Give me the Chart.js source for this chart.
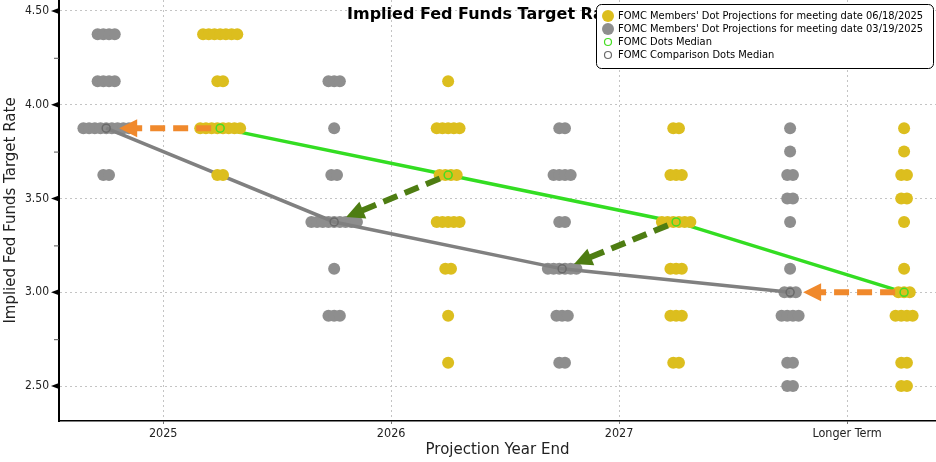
<!DOCTYPE html>
<html>
<head>
<meta charset="utf-8">
<script src="https://cdn.jsdelivr.net/npm/chart.js@4.4.1/dist/chart.umd.min.js"></script>
<style>
  html, body { margin: 0; padding: 0; background: #fff; }
  #wrap { width: 936px; height: 462px; position: relative; }
</style>
</head>
<body>
<div id="wrap"><canvas id="chart"></canvas></div>
<script>
const categories = ['2025', '2026', '2027', 'Longer Term'];
const rateLevels = [4.375, 4.125, 3.875, 3.75, 3.625, 3.5, 3.375, 3.125, 3.0, 2.875, 2.625, 2.5];

// number of participants at each rate level (same order as rateLevels)
const june2025 = [7, 2, 8, 0, 2, 0, 0, 0, 0, 0, 0, 0];
const june2026 = [0, 1, 5, 0, 4, 0, 5, 2, 0, 1, 1, 0];
const june2027 = [0, 0, 2, 0, 3, 0, 6, 3, 0, 3, 2, 0];
const juneLonger = [0, 0, 1, 1, 2, 2, 1, 1, 3, 4, 2, 2];

const march2025 = [4, 4, 9, 0, 2, 0, 0, 0, 0, 0, 0, 0];
const march2026 = [0, 3, 1, 0, 2, 0, 9, 1, 0, 3, 0, 0];
const march2027 = [0, 0, 2, 0, 4, 0, 2, 6, 0, 3, 2, 0];
const marchLonger = [0, 0, 1, 1, 2, 2, 1, 1, 3, 4, 2, 2];

const juneMedians = [3.875, 3.625, 3.375, 3.0];
const marchMedians = [3.875, 3.375, 3.125, 3.0];

const yMajorTicks = [2.5, 3.0, 3.5, 4.0, 4.5];
const yMinorTicks = [2.75, 3.25, 3.75, 4.25];

const juneDots = [june2025, june2026, june2027, juneLonger];
const marchDots = [march2025, march2026, march2027, marchLonger];

const FONT = '"DejaVu Sans Condensed", "DejaVu Sans", sans-serif';
const WIDE_FONT = '"DejaVu Sans", sans-serif';
const YELLOW = '#dcbe1e';
const GREY = '#8e8e8e';
const SIDE = 0.25;      // offset of each meeting's column from the year
const DOT_STEP = 0.025; // horizontal spread between stacked dots

function dotPoints(columns, side) {
  const pts = [];
  columns.forEach((counts, col) => {
    counts.forEach((n, k) => {
      for (let j = 0; j < n; j++) {
        pts.push({ x: col + side + (j - (n - 1) / 2) * DOT_STEP, y: rateLevels[k] });
      }
    });
  });
  return pts;
}

function medianPoints(medians, side) {
  return medians.map((v, i) => ({ x: i + side, y: v }));
}

function drawArrow(ctx, x0, y0, x1, y1, color) {
  const dx = x1 - x0, dy = y1 - y0;
  const len = Math.hypot(dx, dy);
  const ux = dx / len, uy = dy / len;
  const sx = x0 + ux * 9, sy = y0 + uy * 9;
  const tx = x1 - ux * 13, ty = y1 - uy * 13;
  const head = 18, half = 9;
  const bx = tx - ux * head, by = ty - uy * head;
  ctx.save();
  ctx.strokeStyle = color;
  ctx.fillStyle = color;
  ctx.lineWidth = 6;
  ctx.setLineDash([15, 8]);
  ctx.beginPath();
  ctx.moveTo(sx, sy);
  ctx.lineTo(bx + ux * 2, by + uy * 2);
  ctx.stroke();
  ctx.setLineDash([]);
  ctx.beginPath();
  ctx.moveTo(tx, ty);
  ctx.lineTo(bx - uy * half, by + ux * half);
  ctx.lineTo(bx + uy * half, by - ux * half);
  ctx.closePath();
  ctx.fill();
  ctx.restore();
}

const extras = {
  id: 'extras',
  afterDatasetsDraw(chart) {
    const { ctx, scales: { x, y } } = chart;
    categories.forEach((c, i) => {
      const same = juneMedians[i] === marchMedians[i];
      drawArrow(ctx,
        x.getPixelForValue(i + SIDE), y.getPixelForValue(juneMedians[i]),
        x.getPixelForValue(i - SIDE), y.getPixelForValue(marchMedians[i]),
        same ? '#f0892c' : '#4e7d12');
    });
  },
  afterDraw(chart) {
    const { ctx, chartArea, scales: { y } } = chart;
    ctx.save();
    // y tick marks
    yMajorTicks.forEach(v => {
      const py = y.getPixelForValue(v);
      ctx.fillStyle = '#000';
      ctx.beginPath();
      ctx.moveTo(chartArea.left - 8, py);
      ctx.lineTo(chartArea.left, py - 3);
      ctx.lineTo(chartArea.left, py + 3);
      ctx.closePath();
      ctx.fill();
    });
    yMinorTicks.forEach(v => {
      const py = y.getPixelForValue(v);
      ctx.strokeStyle = '#555';
      ctx.lineWidth = 1;
      ctx.beginPath();
      ctx.moveTo(chartArea.left - 5, py + 0.5);
      ctx.lineTo(chartArea.left, py + 0.5);
      ctx.stroke();
    });

    // title (partly hidden behind the legend box, as in the original)
    ctx.fillStyle = '#000';
    ctx.font = 'bold 16px ' + WIDE_FONT;
    ctx.textAlign = 'left';
    ctx.textBaseline = 'middle';
    ctx.fillText('Implied Fed Funds Target Rate', 347, 15);

    // legend box
    const lx = 596, ly = 4, lw = 337, lh = 64;
    ctx.fillStyle = '#fff';
    ctx.strokeStyle = '#000';
    ctx.lineWidth = 1;
    ctx.beginPath();
    ctx.roundRect(lx + 0.5, ly + 0.5, lw, lh, 5);
    ctx.fill();
    ctx.stroke();

    const items = [0, 1, 2, 3].map(i => chart.data.datasets[i]);
    ctx.font = '11px ' + FONT;
    ctx.textAlign = 'left';
    items.forEach((ds, i) => {
      const cy = 16 + i * 13;
      ctx.beginPath();
      if (ds.pointRadius > 5) {
        ctx.fillStyle = ds.backgroundColor;
        ctx.arc(608, cy, 6, 0, Math.PI * 2);
        ctx.fill();
      } else {
        ctx.strokeStyle = ds.borderColor;
        ctx.lineWidth = 1.2;
        ctx.arc(608, cy, 3.5, 0, Math.PI * 2);
        ctx.stroke();
      }
      ctx.fillStyle = '#000';
      ctx.fillText(ds.label, 618, cy + 0.5);
    });
    ctx.restore();
  }
};

new Chart(document.getElementById('chart'), {
  type: 'scatter',
  data: {
    datasets: [
      {
        label: "FOMC Members' Dot Projections for meeting date 06/18/2025",
        data: dotPoints(juneDots, SIDE),
        backgroundColor: YELLOW,
        borderWidth: 0,
        pointRadius: 6,
        pointHoverRadius: 6,
        order: 3
      },
      {
        label: "FOMC Members' Dot Projections for meeting date 03/19/2025",
        data: dotPoints(marchDots, -SIDE),
        backgroundColor: GREY,
        borderWidth: 0,
        pointRadius: 6,
        pointHoverRadius: 6,
        order: 6
      },
      {
        label: 'FOMC Dots Median',
        data: medianPoints(juneMedians, SIDE),
        backgroundColor: 'rgba(0,0,0,0)',
        borderColor: '#44dd22',
        borderWidth: 1.5,
        pointRadius: 4,
        order: 1
      },
      {
        label: 'FOMC Comparison Dots Median',
        data: medianPoints(marchMedians, -SIDE),
        backgroundColor: 'rgba(0,0,0,0)',
        borderColor: '#6a6a6a',
        borderWidth: 1.5,
        pointRadius: 4,
        order: 2
      },
      {
        label: 'median line',
        data: medianPoints(juneMedians, SIDE),
        showLine: true,
        borderColor: '#33dd22',
        borderWidth: 3.5,
        pointRadius: 0,
        order: 5
      },
      {
        label: 'comparison median line',
        data: medianPoints(marchMedians, -SIDE),
        showLine: true,
        borderColor: '#808080',
        borderWidth: 3.5,
        pointRadius: 0,
        order: 4
      }
    ]
  },
  options: {
    responsive: true,
    maintainAspectRatio: false,
    animation: false,
    layout: { autoPadding: false, padding: 0 },
    plugins: {
      legend: { display: false },
      tooltip: { enabled: false }
    },
    scales: {
      x: {
        type: 'linear',
        min: -0.457,
        max: 3.39,
        afterFit: (scale) => {
          scale.height = 41;
          scale.paddingLeft = 0;
          scale.paddingRight = 0;
        },
        afterBuildTicks: (scale) => { scale.ticks = categories.map((c, i) => ({ value: i })); },
        ticks: {
          callback: (v) => categories[v],
          color: '#222',
          font: { family: FONT, size: 12.5 },
          padding: 2,
          maxRotation: 0
        },
        grid: { color: '#c4c4c4', drawTicks: true, tickLength: 3, tickColor: '#777', tickBorderDash: [] },
        border: { color: '#000', width: 1.5, dash: [2, 3] },
        title: {
          display: true,
          text: 'Projection Year End',
          color: '#222',
          font: { family: WIDE_FONT, size: 15 },
          padding: { top: 0, bottom: 3 }
        }
      },
      y: {
        min: 2.314,
        max: 4.558,
        afterFit: (scale) => {
          scale.width = 59;
          scale.paddingTop = 0;
          scale.paddingBottom = 0;
        },
        afterBuildTicks: (scale) => {
          scale.ticks = yMajorTicks.concat(yMinorTicks).sort((a, b) => a - b).map(v => ({ value: v }));
        },
        ticks: {
          callback: (v) => yMajorTicks.includes(v) ? v.toFixed(2) : '',
          color: '#222',
          font: { family: FONT, size: 12 },
          padding: 10
        },
        grid: {
          color: (c) => (c.tick && yMajorTicks.includes(c.tick.value)) ? '#c4c4c4' : 'rgba(0,0,0,0)',
          drawTicks: false
        },
        border: { color: '#000', width: 2, dash: [2, 3] },
        title: {
          display: true,
          text: 'Implied Fed Funds Target Rate',
          color: '#222',
          font: { family: WIDE_FONT, size: 15 },
          padding: { top: 2, bottom: 0 }
        }
      }
    }
  },
  plugins: [extras]
});
</script>
</body>
</html>
